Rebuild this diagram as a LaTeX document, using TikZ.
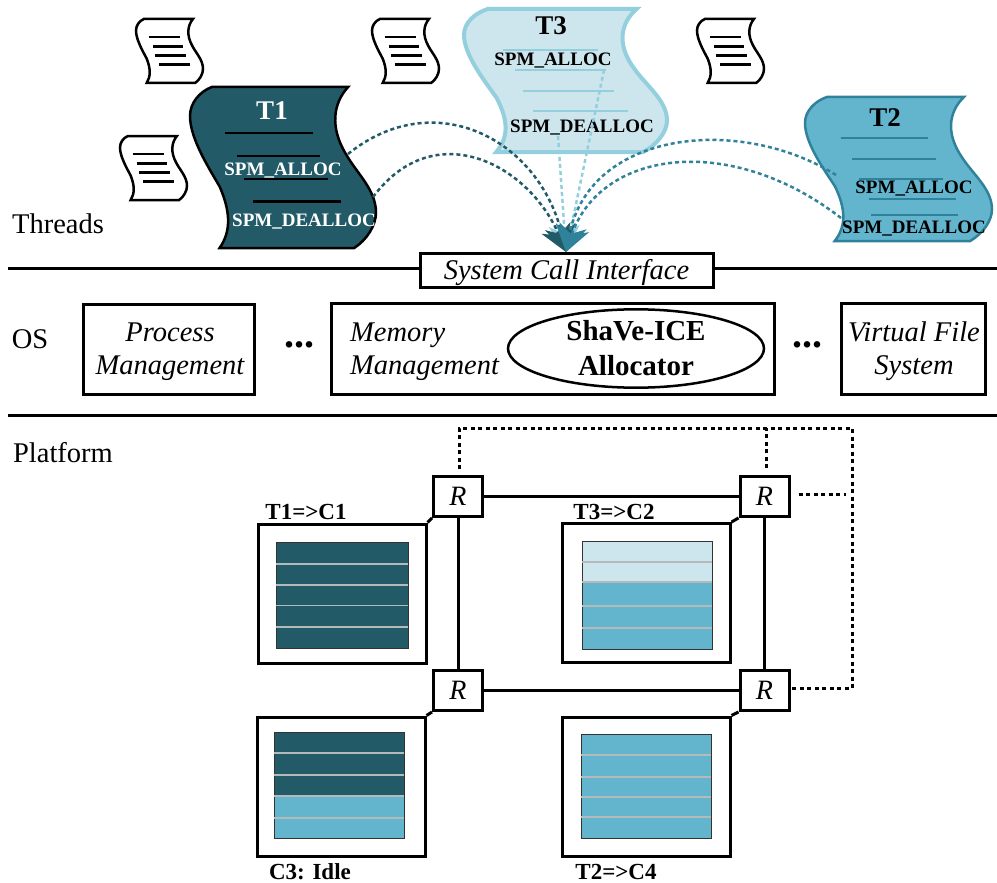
\documentclass[tikz,border=0pt]{standalone}
\usepackage{fontspec}
\setmainfont{Liberation Serif}
\usetikzlibrary{positioning}
\usetikzlibrary{arrows.meta}
\usetikzlibrary{shapes.geometric}

\definecolor{threadone}{HTML}{225A68}
\definecolor{threadtwo}{HTML}{63B5CE}
\definecolor{threadtwoline}{HTML}{2F8299}
\definecolor{threadthree}{HTML}{CDE6ED}
\definecolor{threadthreeline}{HTML}{94CFDD}
\definecolor{bandline}{HTML}{B4BABA}

\newcommand{\sheet}[6]{%
    \begin{scope}[shift={(#1,#2)},xscale=#3,yscale=#4]
        \draw[#5] (.117,0) -- (.85,0)
            .. controls (.77,.1) and (.75,.25) .. (.84,.42)
            .. controls (.9,.54) and (1,.64) .. (1,.78)
            .. controls (1,.86) and (.95,.95) .. (.883,1)
            -- (.159,1)
            .. controls (.22,.9) and (.22,.78) .. (.16,.62)
            .. controls (.1,.5) and (0,.32) .. (0,.18)
            .. controls (0,.1) and (.05,.03) .. (.117,0) -- cycle;
        \foreach \ya/\xa/\xb in {.285/.19/.66,.43/.25/.70,.57/.29/.74,.71/.34/.81}
            \draw[#6] (\xa,\ya) -- (\xb,\ya);
    \end{scope}}

\newcommand{\bands}[5]{%
    \fill[#5] (#1,#2) rectangle (#3,#4);
    \draw[black!80,line width=1pt] (#1,#2) rectangle (#3,#4);
}

\tikzset{
    big/.style={font=\fontsize{28.5}{33}\selectfont,inner sep=0pt},
    bigit/.style={font=\fontsize{28.5}{33}\selectfont\itshape,inner sep=0pt,align=center},
    plainbox/.style={draw,line width=3pt,fill=white,inner sep=0pt},
    rulerline/.style={line width=3pt},
    minibar/.style={line width=2.5pt},
    callarrow/.style={line width=2.5pt,dash pattern=on 4pt off 3pt,
        -{Stealth[length=26pt,width=31pt,inset=8pt]}},
    ringline/.style={line width=3pt,dash pattern=on 4pt off 3.5pt},
    router/.style={plainbox,font=\fontsize{28}{33}\selectfont\itshape,minimum width=49pt,minimum height=40pt},
    corebox/.style={draw,line width=3pt,minimum width=168pt,minimum height=139pt,inner sep=0pt},
    link/.style={line width=3pt},
    corelabel/.style={font=\fontsize{23}{26}\selectfont\bfseries,inner sep=0pt},
    calllabel/.style={font=\fontsize{19}{22}\selectfont\bfseries,inner sep=0pt},
    threadlabel/.style={font=\fontsize{27}{30}\selectfont\bfseries,inner sep=0pt},
    bigdots/.style={font=\fontsize{40}{40}\selectfont\bfseries,inner sep=0pt},
    bandgrey/.style={bandline,line width=1.5pt}
}

\begin{document}
\begin{tikzpicture}[x=1pt,y=-1pt]
    \useasboundingbox (0,0) rectangle (997,883);

    % small sheets
    \sheet{136}{19}{67}{64}{minibar,fill=white}{minibar}
    \sheet{372}{19}{67}{64}{minibar,fill=white}{minibar}
    \sheet{697}{19}{67}{64}{minibar,fill=white}{minibar}
    \sheet{120}{136}{67}{64}{minibar,fill=white}{minibar}

    % thread sheets
    \sheet{190}{87}{186}{161}{line width=2.5pt,fill=threadone}{line width=2.5pt}
    \sheet{464}{9}{203}{143}{line width=4pt,draw=threadthreeline,fill=threadthree}{line width=2pt,draw=threadthreeline}
    \sheet{805}{97}{187}{144}{line width=2.5pt,draw=threadtwoline,fill=threadtwo}{line width=2pt,draw=threadtwoline}
    \draw[line width=2pt,draw=threadtwoline] (871,215) -- (958,215);

    \node[threadlabel,text=white] (t1) at (272,111) {T1};
    \node[threadlabel] (t3) at (551,26) {T3};
    \node[threadlabel] (t2) at (885,118) {T2};
    \node[calllabel,text=white] (t1alloc) at (283,170.5) {SPM\_ALLOC};
    \node[calllabel,text=white] (t1dealloc) at (304,221.5) {SPM\_DEALLOC};
    \node[calllabel] (t3alloc) at (553,61) {SPM\_ALLOC};
    \node[calllabel] (t3dealloc) at (582,128) {SPM\_DEALLOC};
    \node[calllabel] (t2alloc) at (914,188.5) {SPM\_ALLOC};
    \node[calllabel] (t2dealloc) at (914,228.5) {SPM\_DEALLOC};

    \coordinate (sink) at (566,252);
    \coordinate (t1a) at (348,154);
    \coordinate (t1d) at (373,197);
    \coordinate (t3a) at (604,70);
    \coordinate (t3d) at (558,136);
    \coordinate (t2a) at (836,175);
    \coordinate (t2d) at (841,218);

    % calls into the kernel
    \draw[callarrow,threadthreeline] (t3a) -- (sink);
    \draw[callarrow,threadthreeline] (t3d) -- (sink);
    \draw[callarrow,threadone] (t1a) .. controls (435,84) and (540,140) .. (sink);
    \draw[callarrow,threadone] (t1d) .. controls (435,114) and (530,165) .. (sink);
    \draw[callarrow,threadtwoline] (t2a) .. controls (740,115) and (590,130) .. (sink);
    \draw[callarrow,threadtwoline] (t2d) .. controls (730,132) and (600,150) .. (sink);

    % layers
    \draw[rulerline] (8,268) -- (997,268);
    \draw[rulerline] (8,415) -- (997,415);
    \node[plainbox,minimum width=293pt,minimum height=34pt] (syscall) at (566.5,270) {};
    \node[bigit] (syscalltext) at (566.5,273) {System Call Interface};

    \node[big] (threads) at (58,224) {Threads};
    \node[big] (os) at (30,339) {OS};
    \node[big] (platform) at (63,453) {Platform};

    \node[plainbox,minimum width=171pt,minimum height=90pt] (process) at (168.5,349) {};
    \node[bigit] (processtext) at (170,351.5) {Process\\Management};
    \node[plainbox,minimum width=443pt,minimum height=91pt] (memory) at (552.5,348.5) {};
    \node[bigit,align=left,anchor=west] (memtext) at (350,351.5) {Memory\\Management};
    \node[draw,ellipse,line width=2.5pt,minimum width=256pt,minimum height=75pt,inner sep=0pt,
        font=\fontsize{29}{35}\selectfont\bfseries,align=center] (shave) at (636,348.5) {ShaVe-ICE\\Allocator};
    \node[plainbox,minimum width=144pt,minimum height=91pt] (vfs) at (913,348.5) {};
    \node[bigit] (vfstext) at (914,351.5) {Virtual File\\System};
    \node[bigdots] (dotsa) at (299,345) {...};
    \node[bigdots] (dotsb) at (807,345) {...};

    % routers
    \node[router] (r1) at (458,496.5) {R};
    \node[router] (r2) at (764.5,496.5) {R};
    \node[router] (r3) at (458,690.5) {R};
    \node[router] (r4) at (764.5,690.5) {R};
    \draw[link] (r1) -- (r2);
    \draw[link] (r3) -- (r4);
    \draw[link] (r1) -- (r3);
    \draw[link] (r2) -- (r4);

    % cores
    \node[corebox] (c1) at (342,593.5) {};
    \node[corebox] (c2) at (646,593) {};
    \node[corebox] (c3) at (341,786.5) {};
    \node[corebox] (c4) at (646,786.5) {};
    \draw[link] (c1.north east) -- (r1.south west);
    \draw[link] (c2.north east) -- (r2.south west);
    \draw[link] (c3.north east) -- (r3.south west);
    \draw[link] (c4.north east) -- (r4.south west);

    \bands{276}{542}{408}{648}{threadone}
    \foreach \ya in {564,585,605.5,627}
        \draw[bandgrey] (276,\ya) -- (408,\ya);

    \bands{582}{541}{712}{649}{threadtwo}
    \fill[threadthree] (582,541) rectangle (712,582);
    \draw[black!80,line width=1pt] (582,541) rectangle (712,649);
    \foreach \ya in {562,582,606,628}
        \draw[bandgrey] (582,\ya) -- (712,\ya);

    \bands{274}{732}{404}{838}{threadtwo}
    \fill[threadone] (274,732) rectangle (404,796);
    \draw[black!80,line width=1pt] (274,732) rectangle (404,838);
    \foreach \ya in {753,775,796,818}
        \draw[bandgrey] (274,\ya) -- (404,\ya);

    \bands{581}{734}{711}{838}{threadtwo}
    \foreach \ya in {755,777,797,817}
        \draw[bandgrey] (581,\ya) -- (711,\ya);

    \node[corelabel] (c1label) at (306,512) {T1=>C1};
    \node[corelabel] (c2label) at (614,512) {T3=>C2};
    \node[corelabel] (c3label) at (310,872) {C3: Idle};
    \node[corelabel] (c4label) at (616,872) {T2=>C4};

    % ring links
    \coordinate (ringa) at (459,428);
    \coordinate (ringb) at (852,428);
    \coordinate (ringc) at (852,688);
    \coordinate (ringd) at (766,428);
    \coordinate (ringe) at (846,494);
    \draw[ringline,shorten <=6pt] (r1.north -| ringa) -- (ringa) -- (ringb) -- (ringc) -- (r4.east |- ringc);
    \draw[ringline,shorten <=7pt] (r2.north -| ringd) -- (ringd);
    \draw[ringline,shorten <=8pt] (r2.east |- ringe) -- (ringe);
\end{tikzpicture}
\end{document}
